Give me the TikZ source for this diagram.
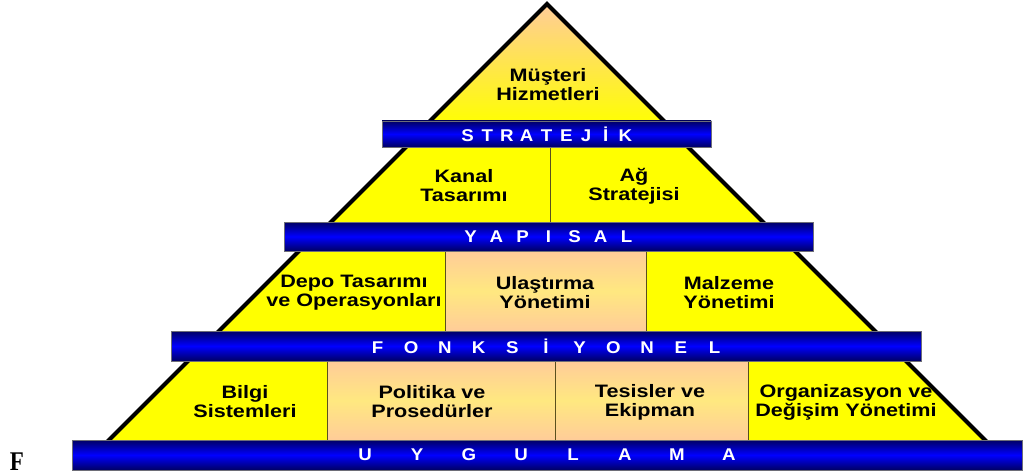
\documentclass[tikz,border=0pt]{standalone}
\usepackage{fontspec}
\newfontfamily\lblfont[FakeStretch=1.2]{Liberation Sans}
\newfontfamily\bandfont[FakeStretch=1.1]{Liberation Sans}
\newfontfamily\serfont[FakeStretch=0.85]{Liberation Serif}

\definecolor{tieryellow}{RGB}{255,255,0}
\definecolor{peach}{RGB}{255,204,153}
\definecolor{peachmid}{RGB}{255,232,128}
\definecolor{banddark}{RGB}{0,0,100}
\definecolor{bandmid}{RGB}{0,0,255}
\definecolor{bandedge}{RGB}{110,110,120}
\definecolor{divline}{RGB}{90,80,30}

% letters of a word, each centred in a box of fixed width
\makeatletter
\newcommand\spacedword[2]{\def\sw@w{#1}\sw@loop#2\relax}
\def\sw@loop#1{\ifx#1\relax\else\makebox[\sw@w]{#1}\expandafter\sw@loop\fi}
\makeatother

\tikzset{
  tier/.style={fill=tieryellow},
  rim/.style={line width=4pt, black, line join=miter},
  peachbox/.style={top color=peach, bottom color=peach, middle color=peachmid, draw=divline, line width=0.6pt},
  divider/.style={draw=divline, line width=0.8pt},
  band/.style={top color=banddark, bottom color=banddark, middle color=bandmid,
    draw=bandedge, line width=0.8pt, inner sep=0pt, text=white,
    font=\bandfont\bfseries\fontsize{17}{17}\selectfont},
  lbl/.style={align=center, text=black, inner sep=0pt,
    font=\lblfont\bfseries\fontsize{18}{19}\selectfont},
}

\begin{document}
\begin{tikzpicture}[x=1pt,y=-1pt]
\useasboundingbox (0,0) rectangle (1027,476);

% tier 1: apex triangle
\fill[top color=peach, bottom color=tieryellow] (547,4) -- (668,125) -- (426,125) -- cycle;
\draw[rim] (426,125) -- (547,4) -- (668,125);

% tier 2
\fill[tier] (408,145) -- (686,145) -- (765,224) -- (329,224) -- cycle;
\draw[divider] (550,147) -- (550,222);
\draw[rim] (408,145) -- (329,224);
\draw[rim] (686,145) -- (765,224);

% tier 3
\fill[tier] (301,249) -- (793,249) -- (877,333) -- (217,333) -- cycle;
\path[peachbox] (445,251) rectangle (646,331);
\draw[rim] (301,249) -- (217,333);
\draw[rim] (793,249) -- (877,333);

% tier 4
\fill[tier] (190,359) -- (904,359) -- (987,442) -- (107,442) -- cycle;
\path[peachbox] (327,361) rectangle (555,440);
\path[peachbox] (555,361) rectangle (748,440);
\draw[rim] (190,359) -- (107,442);
\draw[rim] (904,359) -- (987,442);

% labels
\node[lbl] (musteri) at (548,85) {Müşteri\\Hizmetleri};
\node[lbl] (kanal) at (464,186) {Kanal\\Tasarımı};
\node[lbl] (ag) at (634,186) {Ağ\\Stratejisi};
\node[lbl] (depo) at (354,293) {Depo Tasarımı\\ve Operasyonları};
\node[lbl] (ulastirma) at (545,293) {Ulaştırma\\Yönetimi};
\node[lbl] (malzeme) at (729,293) {Malzeme\\Yönetimi};
\node[lbl] (bilgi) at (245,402) {Bilgi\\Sistemleri};
\node[lbl] (politika) at (432,402) {Politika ve\\Prosedürler};
\node[lbl] (tesisler) at (650,402) {Tesisler ve\\Ekipman};
\node[lbl] (organizasyon) at (846,402) {Organizasyon ve\\Değişim Yönetimi};

% level bands
\node[band, minimum width=329pt, minimum height=26pt] (stratejik) at (546.5,134)
  {\spacedword{19.75pt}{STRATEJİK}};
\node[band, minimum width=529pt, minimum height=29pt] (yapisal) at (548.5,236.5)
  {\spacedword{26pt}{YAPISAL}};
\node[band, minimum width=750pt, minimum height=30pt] (fonksiyonel) at (546,346)
  {\spacedword{33.7pt}{FONKSİYONEL}};
\node[band, minimum width=950pt, minimum height=30pt] (uygulama) at (547,455)
  {\spacedword{52pt}{UYGULAMA}};

\node[font=\serfont\bfseries\fontsize{27}{27}\selectfont, inner sep=0pt] (fmark) at (17,462) {F};
\end{tikzpicture}
\end{document}
